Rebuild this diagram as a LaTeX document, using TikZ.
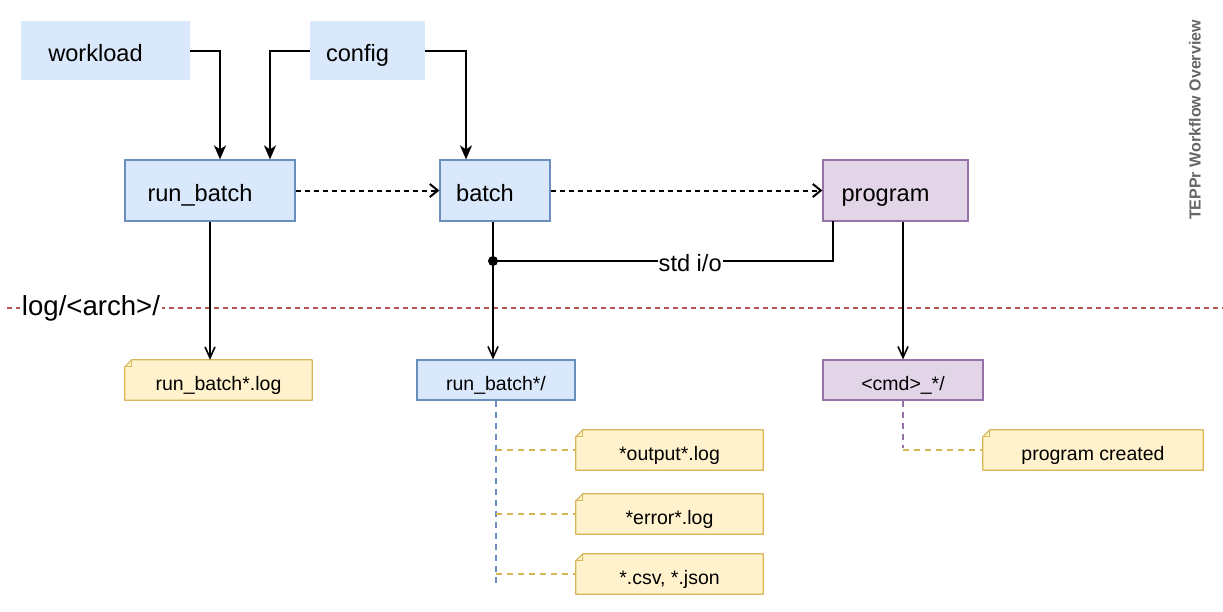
\documentclass[tikz,border=0pt]{standalone}
\usepackage{fontspec}
\setmainfont{Liberation Sans}
\usetikzlibrary{arrows.meta,backgrounds}

\definecolor{boxblue}{HTML}{DAE8FC}
\definecolor{lineblue}{HTML}{6C8EBF}
\definecolor{boxpurple}{HTML}{E1D5E7}
\definecolor{linepurple}{HTML}{9673A6}
\definecolor{noteyellow}{HTML}{FFF2CC}
\definecolor{lineyellow}{HTML}{D6B656}
\definecolor{linered}{HTML}{B85450}
\definecolor{titlegray}{HTML}{666666}

\tikzset{bigtext/.style={font=\fontsize{23.6}{28}\selectfont, text height=21.5pt, text depth=0pt}}
\tikzset{smalltext/.style={font=\fontsize{19.5}{23}\selectfont, text height=20.5pt, text depth=0pt}}
\tikzset{input/.style={bigtext, fill=boxblue, minimum height=59pt, inner sep=0pt,
  execute at end node={\hspace{20pt}}}}
\tikzset{stage/.style={bigtext, fill=boxblue, draw=lineblue, line width=1.2pt,
  minimum height=61pt, inner sep=0pt, execute at end node={\hspace{20pt}}}}
\tikzset{prog/.style={stage, fill=boxpurple, draw=linepurple}}
\tikzset{dirbox/.style={smalltext, fill=boxblue, draw=lineblue, line width=1.2pt,
  minimum height=40pt, inner sep=0pt}}
\tikzset{note/.style={smalltext, minimum height=40pt, inner sep=0pt}}
\tikzset{flow/.style={-{Stealth[length=14pt,width=12pt,inset=4pt]}, line width=2pt}}
\tikzset{call/.style={-{Straight Barb[length=8pt,width=13pt]}, line width=2pt,
  dash pattern=on 5pt off 4pt}}
\tikzset{outlink/.style={-{Straight Barb[length=11pt,width=10pt]}, line width=1.6pt}}
\tikzset{tree/.style={line width=1.6pt, dash pattern=on 6pt off 5pt}}

\begin{document}
\begin{tikzpicture}[x=1pt, y=-1pt]
\useasboundingbox (0,0) rectangle (1223,611);

% log directory boundary
\draw[linered, line width=1.4pt, dash pattern=on 5pt off 4pt] (7,308) -- (1223,308);
\node[fill=white, inner xsep=2pt, inner ysep=0pt, font=\fontsize{27.6}{32}\selectfont,
  text height=15.5pt, text depth=0pt] (logdir) at (91,308) {log/<arch>/};

% inputs and stages
\node[input, minimum width=169pt] (workload) at (105.5,50.5) {workload};
\node[input, minimum width=115pt] (config) at (367.5,50.5) {config};
\node[stage, minimum width=170pt] (runbatch) at (210,190.5) {run\_batch};
\node[stage, minimum width=110pt] (batch) at (495,190.5) {batch};
\node[prog, minimum width=145pt] (program) at (895.5,190.5) {program};

% outputs
\node[note, minimum width=187pt] (runlog) at (218.5,380) {run\_batch*.log};
\node[dirbox, minimum width=158pt] (rbdir) at (496,380) {run\_batch*/};
\node[dirbox, fill=boxpurple, draw=linepurple, minimum width=160pt] (cmddir) at (903,380) {<cmd>\_*/};
\node[note, minimum width=187pt] (outlog) at (669.5,450) {*output*.log};
\node[note, minimum width=187pt] (errlog) at (669.5,514) {*error*.log};
\node[note, minimum width=187pt] (data) at (669.5,574) {*.csv, *.json};
\node[note, minimum width=220pt] (created) at (1093,450) {program created};

\node[rotate=90, font=\bfseries\fontsize{16}{19}\selectfont, text=titlegray]
  (title) at (1195,120) {TEPPr Workflow Overview};

% note outlines with folded corner
\begin{scope}[on background layer]
\foreach \n in {runlog,outlog,errlog,data,created} {
  \draw[lineyellow, fill=noteyellow, line width=1.2pt, line join=round]
    ([xshift=7pt]\n.north west) -- (\n.north east) -- (\n.south east)
    -- (\n.south west) -- ([yshift=-7pt]\n.north west) -- cycle;
  \draw[lineyellow, line width=1pt]
    ([xshift=7pt]\n.north west) -- ([xshift=7pt,yshift=-7pt]\n.north west)
    -- ([yshift=-7pt]\n.north west);
}
\end{scope}

% inputs
\draw[flow] (workload.east) -| ([xshift=10pt]runbatch.north);
\draw[flow] (config.west) -| ([xshift=60pt]runbatch.north);
\draw[flow] (config.east) -| ([xshift=-29pt]batch.north);

% calls
\draw[call] (runbatch) -- (batch);
\draw[call] (batch) -- (program);

% std i/o
\coordinate (tap) at (493,261);
\coordinate (ptap) at (833,221);
\draw[outlink] (batch.south -| tap) -- (rbdir.north -| tap);
\fill (tap) circle (5pt);
\draw[line width=1.6pt] (tap) -- node[pos=.58, fill=white, inner sep=1pt, bigtext] (stdio) {std i/o}
  (tap -| ptap) -- (ptap);

% logs
\draw[outlink] (runbatch.south) -- (runlog.north -| runbatch.south);
\draw[outlink] (program.south -| cmddir.north) -- (cmddir.north);

% directory contents
\coordinate (rbend) at (496,587);
\draw[tree, lineblue] (rbdir.south) -- (rbend);
\foreach \n in {outlog,errlog,data}
  \draw[tree, lineyellow] (\n.west -| rbdir.south) -- (\n.west);
\draw[tree, linepurple] (cmddir.south) -- ([yshift=2pt]created.west -| cmddir.south);
\draw[tree, lineyellow] (created.west -| cmddir.south) -- (created.west);
\end{tikzpicture}
\end{document}
